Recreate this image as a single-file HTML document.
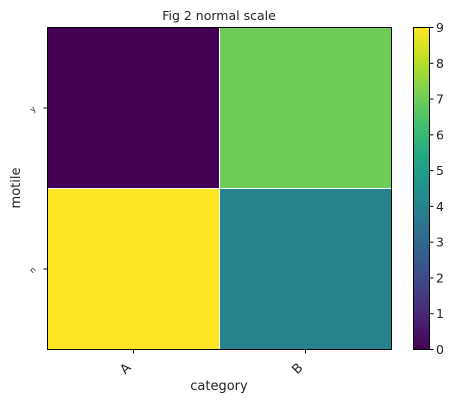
<!DOCTYPE html>
<html><head><meta charset="utf-8"><style>
body{margin:0;background:#fff;}
svg text{font-family:"DejaVu Sans","Liberation Sans",sans-serif;fill:#222;}
</style></head><body>
<svg id="chart" width="455" height="402" xmlns="http://www.w3.org/2000/svg">
<text x="219" y="20" font-size="12.5" text-anchor="middle">Fig 2 normal scale</text>
<g id="cells"></g>
<rect x="47.5" y="27.5" width="344" height="322" fill="none" stroke="#000" stroke-width="1"/>
<g id="axes"></g>
<text x="219" y="390" font-size="13" text-anchor="middle">category</text>
<text transform="translate(20,188) rotate(-90)" font-size="13" text-anchor="middle">motile</text>
<defs><linearGradient id="vir" x1="0" y1="1" x2="0" y2="0">
<stop offset="0" stop-color="#440154"/><stop offset="0.1" stop-color="#482475"/><stop offset="0.2" stop-color="#414487"/><stop offset="0.3" stop-color="#355f8d"/><stop offset="0.4" stop-color="#2a788e"/><stop offset="0.5" stop-color="#21918c"/><stop offset="0.6" stop-color="#22a884"/><stop offset="0.7" stop-color="#44bf70"/><stop offset="0.8" stop-color="#7ad151"/><stop offset="0.9" stop-color="#bddf26"/><stop offset="1" stop-color="#fde725"/>
</linearGradient></defs>
<rect x="413.5" y="27.5" width="16" height="322" fill="url(#vir)" stroke="#000" stroke-width="1"/>
<g id="cbticks"></g>
</svg>
<script>
const xCats=["A","B"];
const yCats=["y","n"];
const values=[[0,7],[9,4]];
const cbTicks=[0,1,2,3,4,5,6,7,8,9];
const vmin=0,vmax=9;
const stops=["#440154","#482475","#414487","#355f8d","#2a788e","#21918c","#22a884","#44bf70","#7ad151","#bddf26","#fde725"];
function hex(h){return [1,3,5].map(i=>parseInt(h.substr(i,2),16));}
function viridis(t){t=Math.max(0,Math.min(1,t));const p=t*10,i=Math.min(9,Math.floor(p)),f=p-i;const a=hex(stops[i]),b=hex(stops[i+1]);return "rgb("+a.map((v,k)=>Math.round(v+(b[k]-v)*f)).join(",")+")";}
const X0=47.5,X1=391.5,Y0=27.5,Y1=349.5;
const cw=(X1-X0)/xCats.length,ch=(Y1-Y0)/yCats.length;
const xs=i=>X0+i*cw, ys=j=>Y0+j*ch;
const NS="http://www.w3.org/2000/svg";
const cells=document.getElementById('cells'),axes=document.getElementById('axes'),cb=document.getElementById('cbticks');
function mk(tag,attrs,parent){const e=document.createElementNS(NS,tag);for(const k in attrs)e.setAttribute(k,attrs[k]);parent.appendChild(e);return e;}
yCats.forEach((yc,j)=>xCats.forEach((xc,i)=>{
  const r=mk('rect',{x:xs(i),y:ys(j),width:cw,height:ch,fill:viridis((values[j][i]-vmin)/(vmax-vmin)),stroke:"#fff","stroke-width":1},cells);
  
  
}));
xCats.forEach((c,i)=>{
  const cx=xs(i)+cw/2;
  mk('line',{x1:cx,y1:Y1,x2:cx,y2:Y1+4,stroke:"#000"},axes);
  const t=mk('text',{transform:`translate(${cx-2},${Y1+19}) rotate(-45)`,"font-size":13,"text-anchor":"end"},axes);
  t.textContent=c;
  
  
});
yCats.forEach((c,j)=>{
  const cy=ys(j)+ch/2;
  mk('line',{x1:X0-4,y1:cy,x2:X0,y2:cy,stroke:"#000"},axes);
  const t=mk('text',{transform:`translate(${X0-13},${cy+3}) rotate(-45)`,"font-size":8,"text-anchor":"middle"},axes);
  t.textContent=c;
  
  
});
cbTicks.forEach(v=>{
  const y=Y1-(v-vmin)/(vmax-vmin)*(Y1-Y0);
  mk('line',{x1:429.5,y1:y,x2:433.5,y2:y,stroke:"#000"},cb);
  const t=mk('text',{x:436,y:y+4.5,"font-size":12.5},cb);
  t.textContent=v;
  
  
});
</script>
</body></html>
